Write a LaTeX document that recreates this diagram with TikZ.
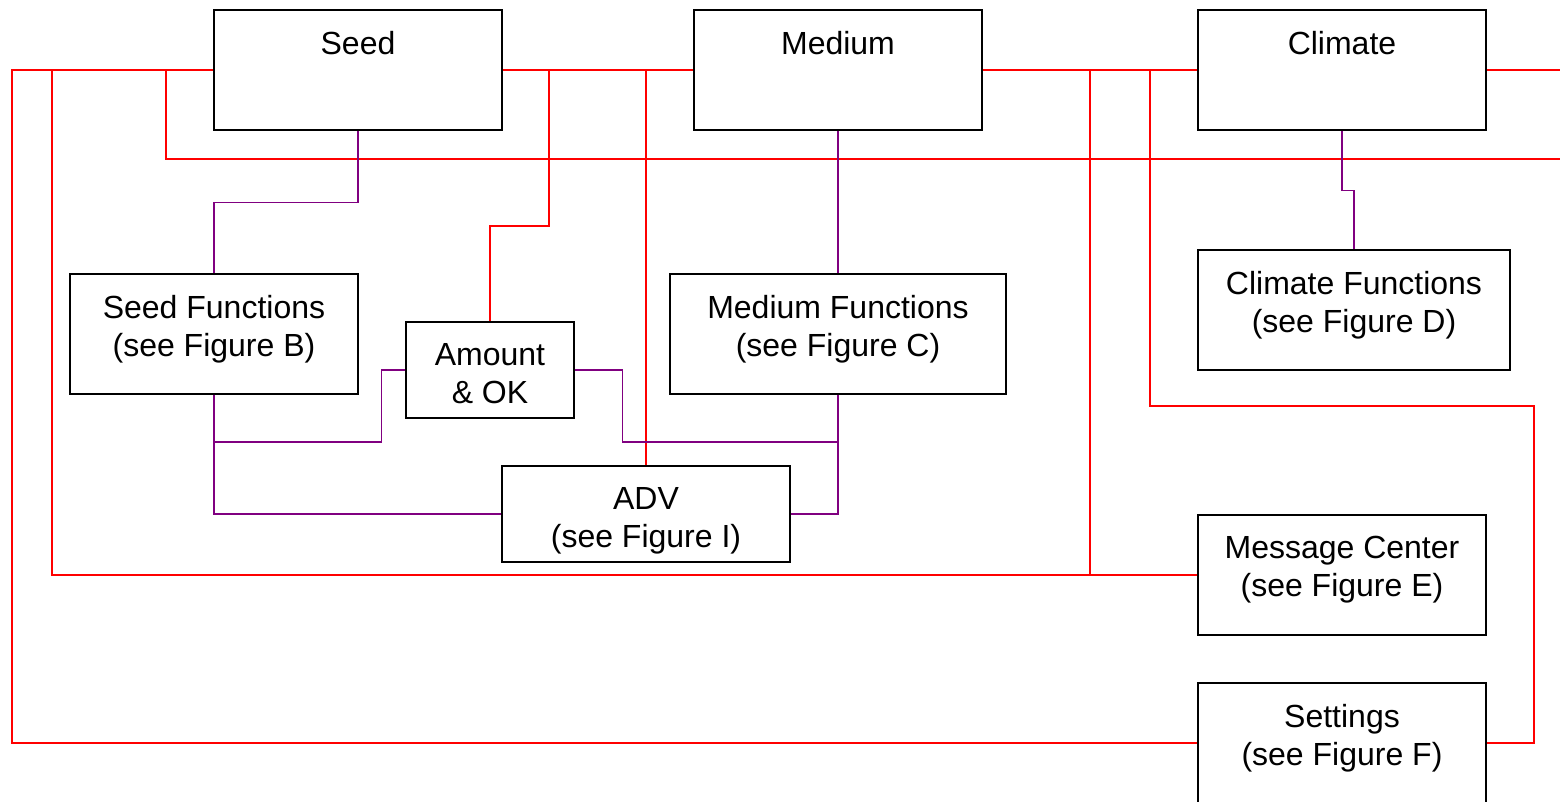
\documentclass[tikz,border=0pt]{standalone}
\usepackage{fontspec}
\setmainfont{Liberation Sans}
\usetikzlibrary{positioning}
\definecolor{wirepurple}{RGB}{128,0,128}

\begin{document}
\begin{tikzpicture}[x=0.5pt, y=-0.5pt, node distance=11pt,
    blk/.style={draw=black, line width=0.75pt, fill=white, inner sep=0pt},
    lbl/.style={align=center, inner sep=0pt, font=\fontsize{16}{19}\selectfont},
    bus/.style={draw=red, line width=0.7pt},
    sig/.style={draw=wirepurple, line width=0.7pt}]
  \useasboundingbox (0,0) rectangle (1560,802);
  % boxes
  \node[blk, minimum width=144pt, minimum height=60pt] (seed) at (358,70) {};
  \node[blk, minimum width=144pt, minimum height=60pt] (medium) at (838,70) {};
  \node[blk, minimum width=144pt, minimum height=60pt] (climate) at (1342,70) {};
  \node[blk, minimum width=144pt, minimum height=60pt] (seedf) at (214,334) {};
  \node[blk, minimum width=84pt, minimum height=48pt] (amount) at (490,370) {};
  \node[blk, minimum width=168pt, minimum height=60pt] (medf) at (838,334) {};
  \node[blk, minimum width=144pt, minimum height=48pt] (adv) at (646,514) {};
  \node[blk, minimum width=156pt, minimum height=60pt] (climf) at (1354,310) {};
  \node[blk, minimum width=144pt, minimum height=60pt] (msg) at (1342,575) {};
  \node[blk, minimum width=144pt, minimum height=60pt] (settings) at (1342,743) {};
  % texts
  \node[lbl, below=of seed.north] (seedT) {Seed};
  \node[lbl, below=of medium.north] (mediumT) {Medium};
  \node[lbl, below=of climate.north] (climateT) {Climate};
  \node[lbl, below=of seedf.north] (seedfT) {Seed Functions\\(see Figure B)};
  \node[lbl, below=of amount.north] (amountT) {Amount\\\& OK};
  \node[lbl, below=of medf.north] (medfT) {Medium Functions\\(see Figure C)};
  \node[lbl, below=of adv.north] (advT) {ADV\\(see Figure I)};
  \node[lbl, below=of climf.north] (climfT) {Climate Functions\\(see Figure D)};
  \node[lbl, below=of msg.north] (msgT) {Message Center\\(see Figure E)};
  \node[lbl, below=of settings.north] (settingsT) {Settings\\(see Figure F)};
  % bus junctions and free ends
  \coordinate (lA) at (12,70);
  \coordinate (lB) at (52,70);
  \coordinate (lC) at (166,70);
  \coordinate (rC) at (1560,159);
  \coordinate (jA) at (549,70);
  \coordinate (jB) at (1090,70);
  \coordinate (jC) at (1150,70);
  \coordinate (rD) at (1534,406);
  \coordinate (rE) at (1560,70);
  \coordinate (sJ) at (214,442);
  \coordinate (mJ) at (838,442);
  % red bus
  \draw[bus] (seed.west) -- (lA) |- (settings.west);
  \draw[bus] (seed.east) -- (medium.west);
  \draw[bus] (medium.east) -- (climate.west);
  \draw[bus] (climate.east) -- (rE);
  \draw[bus] (lB) |- (msg.west);
  \draw[bus] (lC) |- (rC);
  \draw[bus] (jA) -- ++(0,156) -| (amount.north);
  \draw[bus] (adv.north) -- (adv.north |- seed.west);
  \draw[bus] (jB) -- (jB |- msg.west);
  \draw[bus] (jC) |- (rD) |- (settings.east);
  % purple links
  \draw[sig] (seed.south) -- ++(0,72) -| (seedf.north);
  \draw[sig] (medium.south) -- (medf.north);
  \draw[sig] (climate.south) -- ++(0,60) -| (climf.north);
  \draw[sig] (seedf.south) |- (adv.west);
  \draw[sig] (amount.west) -- ++(-24,0) |- (sJ);
  \draw[sig] (amount.east) -- ++(48,0) |- (mJ);
  \draw[sig] (medf.south) |- (adv.east);
\end{tikzpicture}
\end{document}
